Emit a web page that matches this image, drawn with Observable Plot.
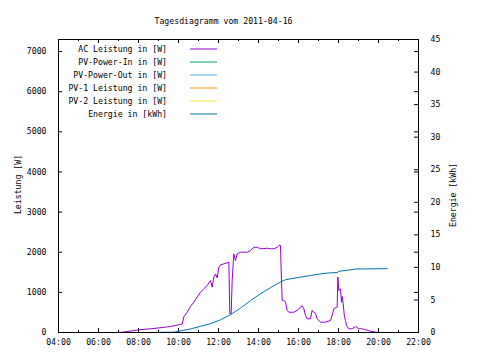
<!DOCTYPE html>
<html><head><meta charset="utf-8">
<script src="https://cdn.jsdelivr.net/npm/d3@7"></script>
<script src="https://cdn.jsdelivr.net/npm/@observablehq/plot@0.6"></script>
<style>body{margin:0;background:#fff}svg{display:block}</style>
</head><body><div id="chart"></div>
<script>
const title = "Tagesdiagramm vom 2011-04-16";
const yLabel = "Leistung [W]";
const y2Label = "Energie [kWh]";
const seriesNames = ["AC Leistung in [W]", "PV-Power-In in [W]", "PV-Power-Out in [W]", "PV-1 Leistung in [W]", "PV-2 Leistung in [W]", "Energie in [kWh]"];
const seriesColors = ["#9400D3", "#009E73", "#56B4E9", "#E69F00", "#F0E442", "#0072B2"];

const acTime = ["07:01","07:21","07:41","08:01","08:36","09:04","09:36","10:06","10:11","10:16","10:26","10:36","10:46","10:56","11:06","11:16","11:26","11:36","11:41","11:46","11:51","11:56","12:01","12:06","12:16","12:31","12:34","12:38","12:41","12:46","12:51","12:56","13:06","13:26","13:36","13:46","13:56","14:06","14:26","14:36","14:46","14:56","15:01","15:06","15:08","15:11","15:16","15:21","15:26","15:31","15:46","15:56","16:01","16:11","16:16","16:21","16:26","16:36","16:41","16:46","16:51","16:56","17:06","17:21","17:36","17:41","17:46","17:54","17:56","17:58","18:01","18:06","18:09","18:11","18:14","18:18","18:21","18:24","18:31","18:41","18:51","19:01","19:11","19:21","19:36","19:51","20:01"];
const acPower = [0,20,42,67,92,117,150,200,210,390,505,650,755,880,1005,1090,1170,1295,1130,1380,1460,1360,1625,1685,1710,1750,465,465,1295,1960,1790,1960,2000,2000,2040,2125,2125,2085,2100,2085,2085,2125,2165,2165,1545,800,800,755,550,505,505,550,590,670,590,425,340,340,550,500,480,340,257,257,300,425,590,630,630,1380,1045,1090,755,900,715,380,300,175,92,92,150,92,92,67,32,8,0];

const enTime = ["08:26","09:46","10:06","10:36","11:06","11:36","12:06","12:36","13:06","13:36","14:06","14:36","15:06","15:21","15:36","16:06","16:36","17:06","17:36","17:56","18:01","18:21","18:51","20:26"];
const enValue = [0,0.05,0.25,0.55,0.95,1.35,1.95,2.75,3.75,4.9,5.95,6.9,7.75,8.1,8.25,8.5,8.75,9.0,9.17,9.2,9.4,9.52,9.75,9.8];

const xTicks = [4,6,8,10,12,14,16,18,20,22];
const xMinor = [5,7,9,11,13,15,17,19,21];
const leftTicks = [0,1000,2000,3000,4000,5000,6000,7000];
const rightTicks = [0,5,10,15,20,25,30,35,40,45];
const xDomain = [4,22];
const yMax = 7300;
const y2Max = 45;

const W = 480, H = 360, mL = 58, mR = 62, mT = 39, mB = 28;
const k = yMax / y2Max;
const pxX = (xDomain[1]-xDomain[0]) / (W - mL - mR);
const pxY = yMax / (H - mT - mB);
const toH = s => { const [h, m] = s.split(":").map(Number); return h + m/60; };
const ac = acTime.map((t, i) => ({x: toH(t), y: acPower[i]}));
const en = enTime.map((t, i) => ({x: toH(t), y: enValue[i] * k}));
const fmtX = h => String(h).padStart(2, "0") + ":00";
const font = "'DejaVu Sans Mono', monospace";
const fs = 8.2;
const major = 4, minor = 2;

const plot = Plot.plot({
  width: W, height: H, marginLeft: mL, marginRight: mR, marginTop: mT, marginBottom: mB,
  style: {fontFamily: font, fontSize: fs + "px", color: "#000", background: "#fff"},
  x: {domain: xDomain},
  y: {domain: [0, yMax]},
  marks: [
    Plot.ruleX(xTicks, {x: d => d, y1: 0, y2: major * pxY, stroke: "#000"}),
    Plot.ruleX(xTicks, {x: d => d, y1: yMax - major * pxY, y2: yMax, stroke: "#000"}),
    Plot.ruleX(xMinor, {x: d => d, y1: 0, y2: minor * pxY, stroke: "#000"}),
    Plot.ruleX(xMinor, {x: d => d, y1: yMax - minor * pxY, y2: yMax, stroke: "#000"}),
    Plot.ruleY(leftTicks, {y: d => d, x1: xDomain[0], x2: xDomain[0] + major * pxX, stroke: "#000"}),
    Plot.ruleY(leftTicks, {y: d => d, x1: xDomain[1] - major * pxX, x2: xDomain[1], stroke: "#000"}),
    Plot.ruleY(rightTicks, {y: d => d * k, x1: xDomain[1] - major * pxX, x2: xDomain[1], stroke: "#000"}),
    Plot.axisX({ticks: xTicks, tickFormat: fmtX, tickSize: 0, tickPadding: 7, label: null}),
    Plot.axisY({anchor: "left", ticks: leftTicks, tickFormat: d => String(d), tickSize: 0, tickPadding: 12, label: null}),
    Plot.axisY({anchor: "right", ticks: rightTicks.map(v => v * k), tickFormat: v => String(Math.round(v / k)), tickSize: 0, tickPadding: 12, label: null}),
    Plot.line(ac, {x: "x", y: "y", stroke: seriesColors[0], strokeWidth: 1}),
    Plot.line(en, {x: "x", y: "y", stroke: seriesColors[5], strokeWidth: 1}),
    Plot.frame({stroke: "#000"}),
    Plot.text([title], {frameAnchor: "top", dy: -21, dx: -15, text: d => d}),
    Plot.text([yLabel], {frameAnchor: "left", textAnchor: "middle", dx: -40, dy: -1.5, rotate: -90, text: d => d}),
    Plot.text([y2Label], {frameAnchor: "right", textAnchor: "middle", dx: 35, dy: 9, rotate: -90, text: d => d})
  ]
});
document.getElementById("chart").appendChild(plot);

const svg = d3.select(plot.tagName.toLowerCase() === "svg" ? plot : plot.querySelector("svg"));
const lg = svg.append("g").attr("font-family", font).attr("font-size", fs);
seriesNames.forEach((name, i) => {
  const cy = mT + 10 + 13 * i;
  lg.append("text").attr("x", mL + 109).attr("y", cy).attr("dy", "0.32em")
    .attr("text-anchor", "end").attr("fill", "#000").text(name);
  lg.append("line").attr("x1", mL + 132).attr("x2", mL + 159).attr("y1", cy).attr("y2", cy)
    .attr("stroke", seriesColors[i]).attr("stroke-width", 1);
});
</script>
</body></html>
